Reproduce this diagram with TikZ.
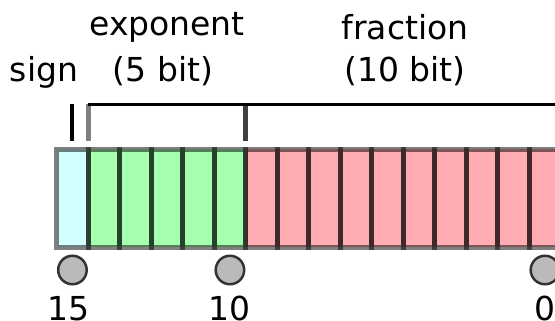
\documentclass[tikz,border=0pt]{standalone}
\usepackage{fontspec}
\setmainfont{DejaVu Sans}
\usetikzlibrary{positioning}

\definecolor{signfill}{RGB}{210,255,255}
\definecolor{expfill}{RGB}{165,255,175}
\definecolor{fracfill}{RGB}{255,173,178}

\tikzset{
  bitcell/.style={rectangle, minimum width=31.5pt, minimum height=97.5pt, inner sep=0pt, outer sep=0pt},
  bitedge/.style={draw=black, draw opacity=.5, line width=5pt},
  bitdot/.style={circle, draw=black!80, line width=2.5pt, fill=black!27, minimum size=28.5pt, inner sep=0pt},
  bigtext/.style={anchor=base, inner sep=0pt, font=\fontsize{33}{40}\selectfont},
  braceside/.style={draw=black, draw opacity=.5, line width=5pt},
  bracetop/.style={draw=black, line width=3pt},
}

\begin{document}
\begin{tikzpicture}[x=1pt, y=-1pt]
	\clip (0,0) rectangle (555,321);
	\coordinate (braceY) at (0,104.5);
	\coordinate (footY) at (0,141);
			\node[bitcell, fill=signfill] (b15) at (72.45,198.25) {};
				\foreach \i in {14,...,10}
					\node[bitcell, fill=expfill, right=0pt of b\the\numexpr\i+1\relax] (b\i) {};
				\foreach \i in {9,...,0}
					\node[bitcell, fill=fracfill, right=0pt of b\the\numexpr\i+1\relax] (b\i) {};
				\foreach \i in {0,...,15}
					\draw[bitedge] (b\i.north west) rectangle (b\i.south east);
	\draw[line width=4pt] (b15.north |- footY) -- (b15.north |- braceY);
	\draw[braceside] (b14.north west |- footY) -- (b14.north west |- braceY);
	\draw[braceside] (b10.north east |- footY) -- (b10.north east |- braceY);
	\draw[braceside] (b9.north west |- footY) -- (b9.north west |- braceY);
	\draw[bracetop] (b14.north west |- braceY) -- (b0.north east |- braceY);
	\node[bigtext] (sign) at (44,82) {sign};
	\node[bigtext] (expname) at (167,36) {exponent};
	\node[bigtext] (expbits) at (163,82) {(5 bit)};
	\node[bigtext] (fracname) at (405,40) {fraction};
	\node[bigtext] (fracbits) at (405,82) {(10 bit)};
				\foreach \i/\dx in {15/-3.5, 10/0, 0/0} {
					\node[bitdot] (d\i) at (b\i.center |- 0,270) {};
					\node[bigtext, xshift=\dx pt] (n\i) at (d\i.center |- 0,320) {\i};
				}
\end{tikzpicture}
\end{document}
